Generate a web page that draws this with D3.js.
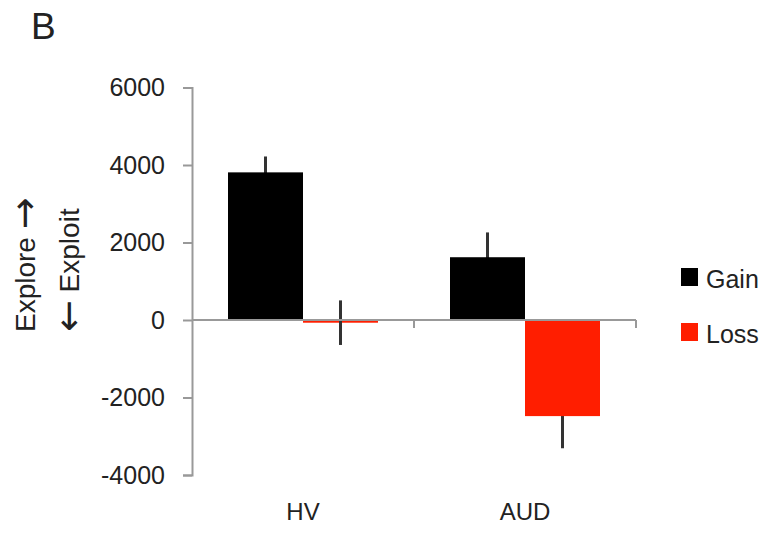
<!DOCTYPE html>
<html>
<head>
<meta charset="utf-8">
<script src="https://cdn.jsdelivr.net/npm/d3@7"></script>
<style>
  html, body { margin: 0; padding: 0; background: #fff; }
  svg { display: block; }
  text { font-family: "Liberation Sans", Arial, sans-serif; fill: #222; }
</style>
</head>
<body>
<svg id="chart" width="768" height="534"></svg>
<script>
// ---- data ----
const categories = ["HV", "AUD"];
const seriesNames = ["Gain", "Loss"];
const gainValues = [3810, 1620];
const lossValues = [-70, -2480];
const gainErrors = [410, 640];
const lossErrors = [570, 830];
const yTicks = [-4000, -2000, 0, 2000, 4000, 6000];
const panelLabel = "B";
const yLabelTopWord = "Explore";
const yLabelBottomWord = "Exploit";
const arrowUp = "\u2192";
const arrowDown = "\u2190";

const colors = { Gain: "#000000", Loss: "#ff1e00" };

const rows = [];
categories.forEach((c, i) => {
  rows.push({ cat: c, series: "Gain", value: gainValues[i], err: gainErrors[i] });
  rows.push({ cat: c, series: "Loss", value: lossValues[i], err: lossErrors[i] });
});

const svg = d3.select("#chart");

const y = d3.scaleLinear().domain([-4000, 6000]).range([475, 87.5]);
const x = d3.scaleBand().domain(categories).range([192, 636]).padding(0);
const xs = d3.scaleBand().domain(seriesNames).range([0, x.bandwidth()])
  .paddingInner(0).paddingOuter(0.48);

// y axis
const yAxis = svg.append("g")
  .attr("transform", "translate(192,0)")
  .call(d3.axisLeft(y).tickValues(yTicks).tickSize(9).tickSizeOuter(9).tickPadding(18)
    .tickFormat(d => String(d)));
yAxis.select(".domain").attr("stroke", "#999").attr("stroke-width", 2);
yAxis.selectAll(".tick line").attr("stroke", "#999").attr("stroke-width", 2);
yAxis.selectAll(".tick text")
  .style("font-family", '"Liberation Sans", Arial, sans-serif')
  .style("font-size", "25px").attr("fill", "#2a2a2a");

// error bars (drawn behind bars)
svg.append("g").selectAll("line.err").data(rows).join("line")
  .attr("class", "err")
  .attr("x1", d => x(d.cat) + xs(d.series) + xs.bandwidth() / 2)
  .attr("x2", d => x(d.cat) + xs(d.series) + xs.bandwidth() / 2)
  .attr("y1", d => y(d.value + d.err))
  .attr("y2", d => y(d.value - d.err))
  .attr("stroke", "#333").attr("stroke-width", 3);

// bars
svg.append("g").selectAll("rect").data(rows).join("rect")
  .attr("x", d => x(d.cat) + xs(d.series))
  .attr("width", xs.bandwidth())
  .attr("y", d => y(Math.max(0, d.value)))
  .attr("height", d => Math.abs(y(d.value) - y(0)))
  .attr("fill", d => colors[d.series]);

// error bar visible over a very thin bar
svg.append("g").selectAll("line.err2").data(rows.filter(d => Math.abs(y(d.value) - y(0)) < 6)).join("line")
  .attr("x1", d => x(d.cat) + xs(d.series) + xs.bandwidth() / 2)
  .attr("x2", d => x(d.cat) + xs(d.series) + xs.bandwidth() / 2)
  .attr("y1", d => y(d.value + d.err))
  .attr("y2", d => y(d.value - d.err))
  .attr("stroke", "#333").attr("stroke-width", 3);

// zero (category) axis
const x0 = svg.append("g");
x0.append("line")
  .attr("x1", x.range()[0]).attr("x2", x.range()[1])
  .attr("y1", y(0)).attr("y2", y(0))
  .attr("stroke", "#999").attr("stroke-width", 2);
x0.selectAll("line.xt").data(categories).join("line")
  .attr("class", "xt")
  .attr("x1", d => x(d) + x.bandwidth()).attr("x2", d => x(d) + x.bandwidth())
  .attr("y1", y(0)).attr("y2", y(0) + 8)
  .attr("stroke", "#999").attr("stroke-width", 2);

// category labels
svg.append("g").selectAll("text").data(categories).join("text")
  .attr("x", d => x(d) + x.bandwidth() / 2)
  .attr("y", 520)
  .attr("text-anchor", "middle")
  .style("font-size", "24px")
  .text(d => d);

// panel label
svg.append("text").attr("x", 31).attr("y", 39).style("font-size", "37px").text(panelLabel);

// y label (two rotated lines)
const t1 = svg.append("text")
  .attr("transform", "translate(35,332) rotate(-90)")
  .style("font-size", "28px");
t1.append("tspan").text(yLabelTopWord + " ");
t1.append("tspan").style("font-family", '"DejaVu Sans", sans-serif').style("font-size", "38px").attr("dy", 2).text(arrowUp);

const t2 = svg.append("text")
  .attr("transform", "translate(79,332) rotate(-90)")
  .style("font-size", "28px");
t2.append("tspan").style("font-family", '"DejaVu Sans", sans-serif').style("font-size", "38px").attr("dy", 2).text(arrowDown);
t2.append("tspan").attr("dy", -2).text(" " + yLabelBottomWord);

// legend
const legend = svg.append("g").selectAll("g").data(seriesNames).join("g")
  .attr("transform", (d, i) => `translate(681,${268 + i * 55})`);
legend.append("rect").attr("width", 17).attr("height", 18).attr("fill", d => colors[d]);
legend.append("text").attr("x", 25).attr("y", 20).style("font-size", "25px").text(d => d);
</script>
</body>
</html>
